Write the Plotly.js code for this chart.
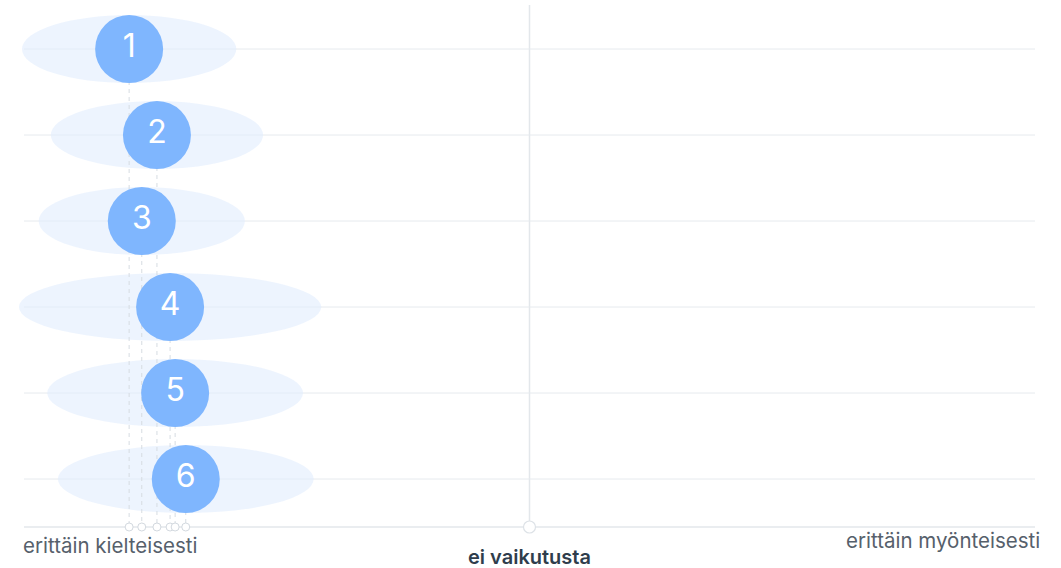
<!DOCTYPE html>
<html>
<head>
<meta charset="utf-8">
<script src="https://cdn.plot.ly/plotly-3.0.1.min.js"></script>
<style>html,body{margin:0;padding:0;background:#fff;}#chart{width:1061px;height:568px;}</style>
</head>
<body>
<div id="chart"></div>
<script>
// Data (scale: -1 = erittäin kielteisesti, 0 = ei vaikutusta, 1 = erittäin myönteisesti)
const labels = ["1", "2", "3", "4", "5", "6"];
const means = [-0.792, -0.737, -0.767, -0.711, -0.701, -0.680];
const spreads = [0.212, 0.210, 0.204, 0.299, 0.253, 0.253];
const axisLabels = ["erittäin kielteisesti", "ei vaikutusta", "erittäin myönteisesti"];

const rows = labels.map((_, i) => i + 1);
const yBottom = 6.558, yTop = 0.488;
const ellH = 0.395;
const xMin = -1.0178;

const shapes = [];
// horizontal row lines
rows.forEach(r => shapes.push({type:'line', xref:'x', yref:'y', x0:-1, x1:1, y0:r, y1:r,
  line:{color:'#e6eaee', width:1}, layer:'below'}));
// center line
shapes.push({type:'line', xref:'x', yref:'paper', x0:0, x1:0, y0:0, y1:1, line:{color:'#e3e7eb', width:1.5}, layer:'below'});
// bottom axis line
shapes.push({type:'line', xref:'x', yref:'paper', x0:-1, x1:1, y0:0, y1:0, line:{color:'#e3e7eb', width:1.5}, layer:'below'});
// spread ellipses
rows.forEach((r, i) => shapes.push({type:'circle', xref:'x', yref:'y',
  x0: means[i] - spreads[i], x1: means[i] + spreads[i], y0: r - ellH, y1: r + ellH,
  fillcolor:'rgba(225,237,253,0.6)', line:{width:0}, layer:'below'}));

const traces = [];
// dashed lines from each circle to the axis
rows.forEach((r, i) => traces.push({type:'scatter', mode:'lines', x:[means[i], means[i]], y:[r, yBottom],
  line:{color:'#d6dce2', width:1, dash:'4px,4px'}, hoverinfo:'skip', showlegend:false, cliponaxis:false}));
// small markers on the axis
traces.push({type:'scatter', mode:'markers', x: means, y: means.map(() => yBottom),
  marker:{size:8, color:'#ffffff', line:{color:'#d3d9df', width:1}}, hoverinfo:'skip', showlegend:false, cliponaxis:false});
traces.push({type:'scatter', mode:'markers', x:[0], y:[yBottom],
  marker:{size:12, color:'#ffffff', line:{color:'#dde2e7', width:1.2}}, hoverinfo:'skip', showlegend:false, cliponaxis:false});
// main circles
traces.push({type:'scatter', mode:'markers+text', x: means, y: rows, text: labels,
  textposition:'middle center', textfont:{color:'#ffffff', size:32, family:'Inter, sans-serif'},
  marker:{size:68, color:'#7fb6fe', line:{width:0}}, hoverinfo:'skip', showlegend:false, cliponaxis:false});

const layout = {
  width:1061, height:568,
  margin:{l:15, r:26, t:5, b:41},
  paper_bgcolor:'#ffffff', plot_bgcolor:'#ffffff',
  font:{family:'Inter, sans-serif'},
  xaxis:{range:[xMin, 1], showgrid:false, zeroline:false, showticklabels:false, showline:false, ticks:'', fixedrange:true},
  yaxis:{range:[yBottom, yTop], showgrid:false, zeroline:false, showticklabels:false, showline:false, ticks:'', fixedrange:true},
  shapes: shapes,
  annotations:[
    {xref:'x', yref:'paper', x:-1, y:-0.0345, xanchor:'left', yanchor:'middle', xshift:-3, showarrow:false,
     text: axisLabels[0], font:{size:20.5, color:'#56606b', family:'Inter, sans-serif'}},
    {xref:'x', yref:'paper', x:0, y:-0.057, xanchor:'center', yanchor:'middle', showarrow:false,
     text: axisLabels[1], font:{size:20, color:'#2f3d4c', family:'Inter, sans-serif', weight:600}},
    {xref:'x', yref:'paper', x:1, y:-0.0268, xanchor:'right', yanchor:'middle', xshift:7, showarrow:false,
     text: axisLabels[2], font:{size:20.5, color:'#56606b', family:'Inter, sans-serif'}}
  ]
};

Plotly.newPlot('chart', traces, layout, {displayModeBar:false, staticPlot:true});
</script>
</body>
</html>
